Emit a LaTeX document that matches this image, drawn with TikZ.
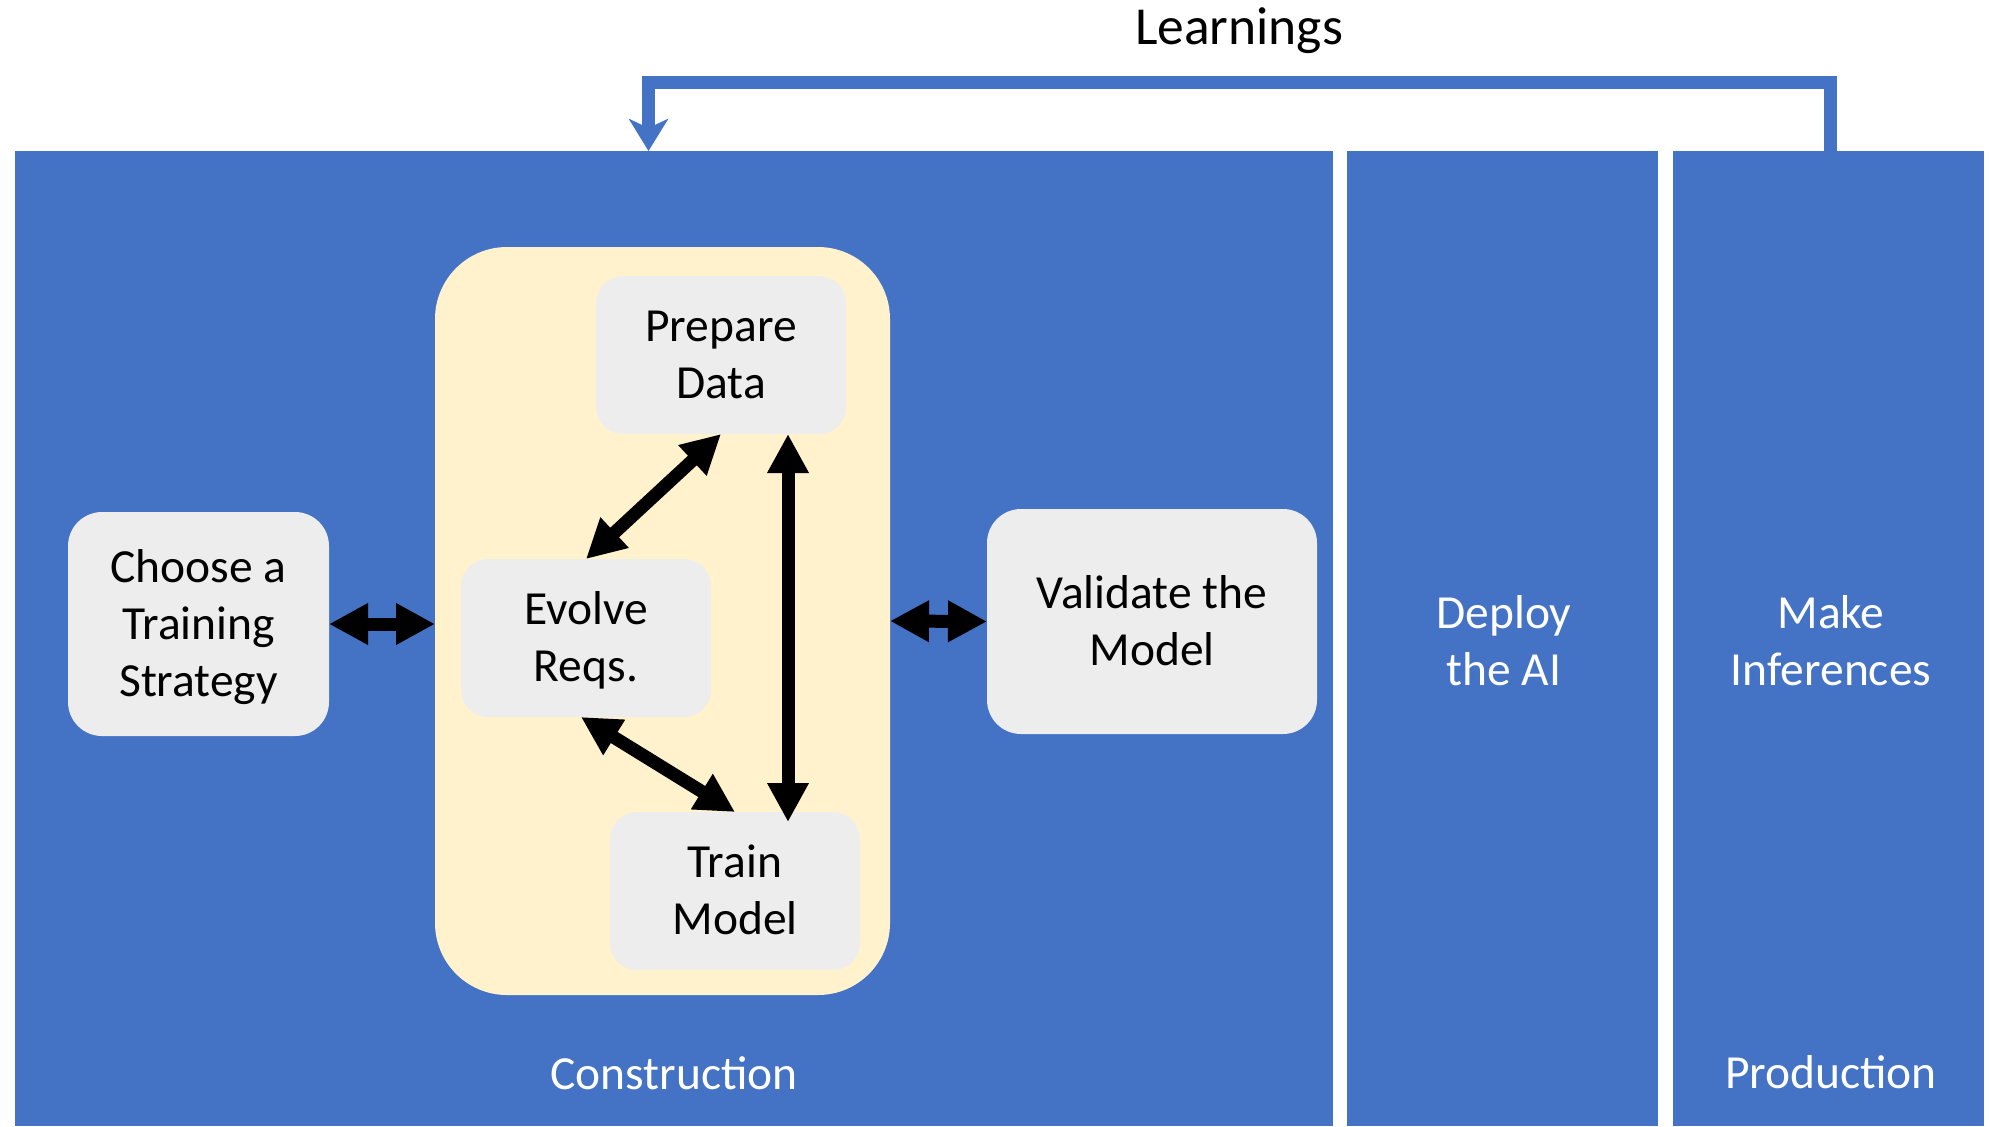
\documentclass[tikz,border=0pt]{standalone}
\usepackage{fontspec}
\setmainfont{Carlito}
\usetikzlibrary{arrows.meta}
\definecolor{panelblue}{HTML}{4472C4}
\definecolor{loopyellow}{HTML}{FFF2CC}
\definecolor{boxgray}{HTML}{EDEDED}
% centred multi-line text whose reference point is the first baseline
\newcommand\stacklines[1]{\begin{tabular}[t]{@{}c@{}}#1\end{tabular}}

\begin{document}
\begin{tikzpicture}[x=0.5pt, y=-0.5pt,
  bodyfont/.style={font=\fontsize{23.75pt}{28.5pt}\selectfont},
  panel/.style={fill=panelblue, inner sep=0pt, outer sep=0pt, minimum height=487.5pt},
  stepbox/.style={bodyfont, fill=boxgray, rounded corners=13.5pt, inner sep=0pt, outer sep=0pt,
    minimum width=125pt, minimum height=79pt, text height=15pt, text depth=28.5pt},
  paneltext/.style={bodyfont, text=white, inner sep=0pt, text height=15pt, text depth=28.5pt},
  caption/.style={bodyfont, text=white, anchor=base, inner sep=0pt},
  twoway/.style={draw=black, line width=6.5pt,
    {Triangle[length=19.5pt,width=19.5pt]}-{Triangle[length=19.5pt,width=19.5pt]}},
  feedback/.style={draw=panelblue, line width=6.5pt,
    -{Stealth[length=16pt,width=19.5pt,inset=4.5pt]}}
]
\useasboundingbox (0,0) rectangle (1990,1126);
\fill[white] (0,0) rectangle (1990,1126);

% phase panels
\node[panel, minimum width=659pt]   (cons)   at (674,638.5)    {};
\node[panel, minimum width=155.5pt] (deploy) at (1502.5,638.5) {};
\node[panel, minimum width=155.5pt] (prod)   at (1828.5,638.5) {};

% iterative loop container
\node[fill=loopyellow, rounded corners=36pt, inner sep=0pt, outer sep=0pt,
      minimum width=227.5pt, minimum height=374pt] (loop) at (662.5,621) {};

% activity boxes
\node[stepbox, minimum width=130.5pt, minimum height=112pt, rounded corners=17pt,
      text depth=57pt] (choose) at (198.5,624) {\stacklines{Choose a\\Training\\Strategy}};
\node[stepbox] (prep)  at (721,355) {\stacklines{Prepare\\Data}};
\node[stepbox] (evo)   at (586,638) {\stacklines{Evolve\\Reqs.}};
\node[stepbox] (train) at (735,891) {\stacklines{Train\\Model}};
\node[stepbox, minimum width=165pt, minimum height=112.5pt, rounded corners=17pt]
      (val) at (1152,621.5) {\stacklines{Validate the\\Model}};

% panel texts
\node[paneltext] (deploytxt) at (1504,642) {\stacklines{Deploy\\the AI}};
\node[paneltext] (infertxt)  at (1831,642) {\stacklines{Make\\Inferences}};
\node[caption] (constxt) at (674,1089)  {Construction};
\node[caption] (prodtxt) at (1831,1088) {Production};

% two-way connectors
\draw[twoway] (choose.east) -- (choose.east -| loop.west);
\draw[twoway] (loop.east) -- (val.west);
\draw[twoway] (prep.south) -- (evo.north);
\draw[twoway] ([xshift=-2.5pt]evo.south) -- (train.north);
\draw[twoway] ([xshift=33.5pt]prep.south) -- ([xshift=26.5pt,yshift=-5pt]train.north);

% learnings feedback loop
\node[anchor=base, inner sep=0pt, font=\fontsize{26.75pt}{32pt}\selectfont] (learn) at (1239,44) {Learnings};
\coordinate (fbtop) at (0,82.5);
\coordinate (fbin) at (648.5,151);
\coordinate (fbout) at ([xshift=0.75pt]prod.north);
\draw[feedback] (fbout) -- (fbout |- fbtop) -| (fbin);
\end{tikzpicture}
\end{document}
